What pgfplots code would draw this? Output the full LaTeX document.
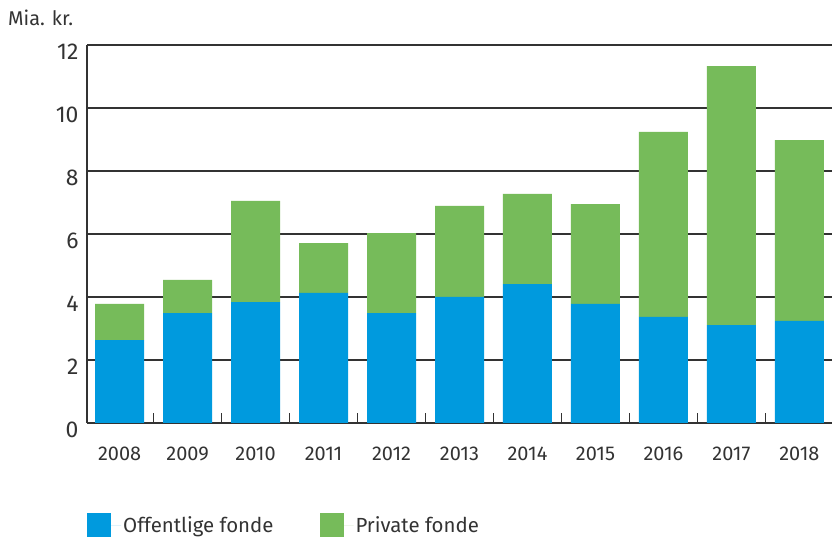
\documentclass[border=0pt]{standalone}
\usepackage{fontspec}
\setmainfont{Fira Sans}
\usepackage{pgfplots}
\pgfplotsset{compat=1.18}
\definecolor{pubblue}{RGB}{0,154,222}
\definecolor{privgreen}{RGB}{118,187,90}
\definecolor{txt}{RGB}{51,51,51}
\begin{document}
\begin{tikzpicture}[x=1bp,y=1bp]
\path[use as bounding box] (0,0) rectangle (832,539);
\begin{axis}[
  at={(87bp,116bp)}, anchor=south west,
  scale only axis, width=745bp, height=378bp,
  xmin=-0.48, xmax=10.48, ymin=0, ymax=12,
  ybar stacked, bar width=49bp,
  axis lines=left,
  axis line style={-, line width=1.2bp, color=txt},
  ytick={0,2,...,12},
  ymajorgrids,
  grid style={line width=1.2bp, color=txt},
  xtick={0,...,10},
  xticklabels={2008,2009,2010,2011,2012,2013,2014,2015,2016,2017,2018},
  minor xtick={0.5,1.5,...,9.5},
  major tick length=0pt,
  minor tick length=10bp,
  tick align=inside,
  minor tick style={line width=1.2bp, color=txt},
  /pgf/number format/assume math mode=true,
  yticklabel style={font=\fontsize{23}{25}\selectfont, text=txt, xshift=-5bp, yshift=-7bp},
  xticklabel style={font=\fontsize{20}{23}\selectfont, text=txt, yshift=-20bp},
  legend style={at={(0,-0.27)}, anchor=west, xshift=-3bp, draw=none, fill=none,
    legend columns=2, font=\fontsize{20.5}{23}\selectfont, text=txt,
    /tikz/every even column/.append style={column sep=44bp}},
  legend image code/.code={\fill[#1] (0bp,-12bp) rectangle (24bp,12bp); \path (24bp,0) -- (34bp,0);},
]
\addplot[fill=pubblue, draw=none] coordinates {
(0,2.63) (1,3.49) (2,3.84) (3,4.13) (4,3.49) (5,4.00) (6,4.41) (7,3.78) (8,3.37) (9,3.11) (10,3.24)};
\addplot[fill=privgreen, draw=none] coordinates {
(0,1.15) (1,1.05) (2,3.21) (3,1.58) (4,2.54) (5,2.89) (6,2.86) (7,3.17) (8,5.87) (9,8.22) (10,5.74)};
\legend{Offentlige fonde, Private fonde}
\end{axis}
\node[anchor=base west, font=\fontsize{20}{23}\selectfont, text=txt, inner sep=0pt] at (8,513) {Mia. kr.};
\end{tikzpicture}
\end{document}
